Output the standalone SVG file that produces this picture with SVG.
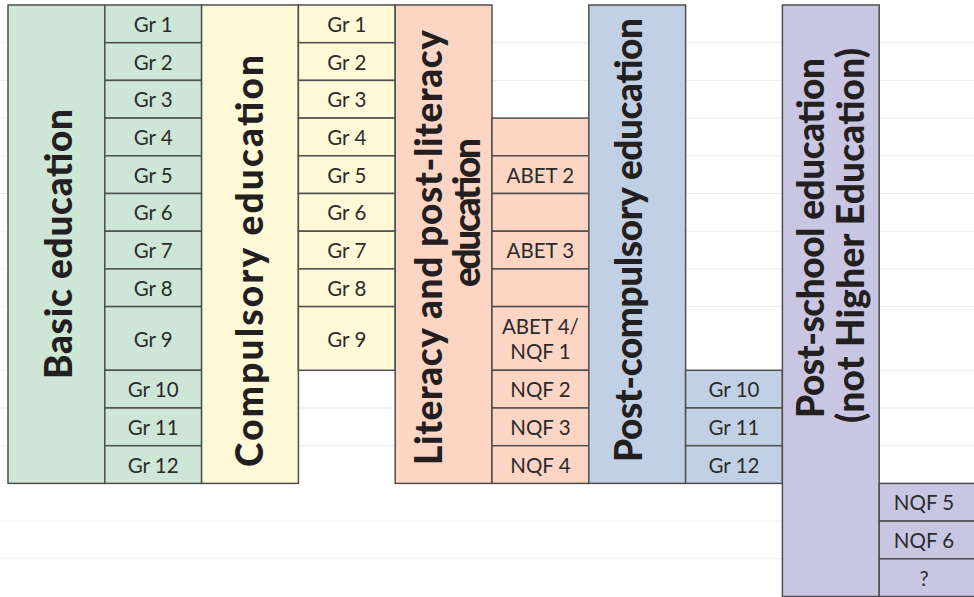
<svg xmlns="http://www.w3.org/2000/svg" width="974" height="597" viewBox="0 0 974 597">
  <style>
    .grid { stroke: #ededed; stroke-width: 1; fill: none; }
    .box { stroke: #4f4f4f; stroke-width: 1.5; }
    .green { fill: #cde6d6; }
    .yellow { fill: #fff9d7; }
    .salmon { fill: #fcd5c4; }
    .blue { fill: #c2d0e6; }
    .purple { fill: #c9c6e3; }
    .cell { font-family: Lato, "Liberation Sans", sans-serif; font-size: 20.5px; fill: #2b2b2b; text-anchor: middle; }
    .title { font-family: Lato, "Liberation Sans", sans-serif; font-size: 37px; font-weight: 900; fill: #231f20; text-anchor: middle; }
  </style>

  <rect width="974" height="597" fill="#ffffff"/>

  <!-- faint background table grid -->
  <g id="background-grid" class="grid">
    <path d="M0 42.7H974M0 80.4H974M0 118.1H974M0 155.8H974M0 193.5H974M0 231.2H974M0 268.9H974M0 306.6H974M0 370.3H974M0 408H974M0 445.7H974M0 521.1H974M0 558.8H974"/>
  </g>

  <!-- Basic education -->
  <g id="basic-education">
    <rect class="box green" x="8" y="5" width="96.8" height="478.4"/>
    <text class="title" transform="translate(72 244) rotate(-90)" textLength="270" lengthAdjust="spacing">Basic education</text>
  </g>
  <g id="basic-grades">
    <rect class="box green" x="104.8" y="5" width="96.8" height="37.7"/>
    <rect class="box green" x="104.8" y="42.7" width="96.8" height="37.7"/>
    <rect class="box green" x="104.8" y="80.4" width="96.8" height="37.7"/>
    <rect class="box green" x="104.8" y="118.1" width="96.8" height="37.7"/>
    <rect class="box green" x="104.8" y="155.8" width="96.8" height="37.7"/>
    <rect class="box green" x="104.8" y="193.5" width="96.8" height="37.7"/>
    <rect class="box green" x="104.8" y="231.2" width="96.8" height="37.7"/>
    <rect class="box green" x="104.8" y="268.9" width="96.8" height="37.7"/>
    <rect class="box green" x="104.8" y="306.6" width="96.8" height="63.7"/>
    <rect class="box green" x="104.8" y="370.3" width="96.8" height="37.7"/>
    <rect class="box green" x="104.8" y="408" width="96.8" height="37.7"/>
    <rect class="box green" x="104.8" y="445.7" width="96.8" height="37.7"/>
    <text class="cell" x="153.2" y="32">Gr 1</text>
    <text class="cell" x="153.2" y="69.6">Gr 2</text>
    <text class="cell" x="153.2" y="107.3">Gr 3</text>
    <text class="cell" x="153.2" y="145">Gr 4</text>
    <text class="cell" x="153.2" y="182.7">Gr 5</text>
    <text class="cell" x="153.2" y="220.4">Gr 6</text>
    <text class="cell" x="153.2" y="258.1">Gr 7</text>
    <text class="cell" x="153.2" y="295.8">Gr 8</text>
    <text class="cell" x="153.2" y="346.5">Gr 9</text>
    <text class="cell" x="153.2" y="397.2">Gr 10</text>
    <text class="cell" x="153.2" y="434.9">Gr 11</text>
    <text class="cell" x="153.2" y="472.6">Gr 12</text>
  </g>

  <!-- Compulsory education -->
  <g id="compulsory-education">
    <rect class="box yellow" x="201.6" y="5" width="96.8" height="478.4"/>
    <text class="title" transform="translate(263 261) rotate(-90)" textLength="412" lengthAdjust="spacing">Compulsory education</text>
  </g>
  <g id="compulsory-grades">
    <rect class="box yellow" x="298.4" y="5" width="96.8" height="37.7"/>
    <rect class="box yellow" x="298.4" y="42.7" width="96.8" height="37.7"/>
    <rect class="box yellow" x="298.4" y="80.4" width="96.8" height="37.7"/>
    <rect class="box yellow" x="298.4" y="118.1" width="96.8" height="37.7"/>
    <rect class="box yellow" x="298.4" y="155.8" width="96.8" height="37.7"/>
    <rect class="box yellow" x="298.4" y="193.5" width="96.8" height="37.7"/>
    <rect class="box yellow" x="298.4" y="231.2" width="96.8" height="37.7"/>
    <rect class="box yellow" x="298.4" y="268.9" width="96.8" height="37.7"/>
    <rect class="box yellow" x="298.4" y="306.6" width="96.8" height="63.7"/>
    <text class="cell" x="346.8" y="32">Gr 1</text>
    <text class="cell" x="346.8" y="69.6">Gr 2</text>
    <text class="cell" x="346.8" y="107.3">Gr 3</text>
    <text class="cell" x="346.8" y="145">Gr 4</text>
    <text class="cell" x="346.8" y="182.7">Gr 5</text>
    <text class="cell" x="346.8" y="220.4">Gr 6</text>
    <text class="cell" x="346.8" y="258.1">Gr 7</text>
    <text class="cell" x="346.8" y="295.8">Gr 8</text>
    <text class="cell" x="346.8" y="346.5">Gr 9</text>
  </g>

  <!-- Literacy and post-literacy education -->
  <g id="literacy-education">
    <rect class="box salmon" x="395.2" y="5" width="96.8" height="478.4"/>
    <text class="title" transform="translate(442 247.5) rotate(-90)" textLength="435" lengthAdjust="spacing">Literacy and post-literacy</text>
    <text class="title" transform="translate(480 212.5) rotate(-90)" textLength="149" lengthAdjust="spacing">education</text>
  </g>
  <g id="literacy-levels">
    <rect class="box salmon" x="492" y="118.1" width="96.8" height="37.7"/>
    <rect class="box salmon" x="492" y="155.8" width="96.8" height="37.7"/>
    <rect class="box salmon" x="492" y="193.5" width="96.8" height="37.7"/>
    <rect class="box salmon" x="492" y="231.2" width="96.8" height="37.7"/>
    <rect class="box salmon" x="492" y="268.9" width="96.8" height="37.7"/>
    <rect class="box salmon" x="492" y="306.6" width="96.8" height="63.7"/>
    <rect class="box salmon" x="492" y="370.3" width="96.8" height="37.7"/>
    <rect class="box salmon" x="492" y="408" width="96.8" height="37.7"/>
    <rect class="box salmon" x="492" y="445.7" width="96.8" height="37.7"/>
    <text class="cell" x="540.4" y="182.7">ABET 2</text>
    <text class="cell" x="540.4" y="258.1">ABET 3</text>
    <text class="cell" x="540.4" y="334">ABET 4/</text>
    <text class="cell" x="540.4" y="359">NQF 1</text>
    <text class="cell" x="540.4" y="397.2">NQF 2</text>
    <text class="cell" x="540.4" y="434.9">NQF 3</text>
    <text class="cell" x="540.4" y="472.6">NQF 4</text>
  </g>

  <!-- Post-compulsory education -->
  <g id="post-compulsory-education">
    <rect class="box blue" x="588.8" y="5" width="96.8" height="478.4"/>
    <text class="title" transform="translate(642 240) rotate(-90)" textLength="444" lengthAdjust="spacing">Post-compulsory education</text>
  </g>
  <g id="post-compulsory-grades">
    <rect class="box blue" x="685.6" y="370.3" width="96.8" height="37.7"/>
    <rect class="box blue" x="685.6" y="408" width="96.8" height="37.7"/>
    <rect class="box blue" x="685.6" y="445.7" width="96.8" height="37.7"/>
    <text class="cell" x="734" y="397.2">Gr 10</text>
    <text class="cell" x="734" y="434.9">Gr 11</text>
    <text class="cell" x="734" y="472.6">Gr 12</text>
  </g>

  <!-- Post-school education -->
  <g id="post-school-education">
    <rect class="box purple" x="782.4" y="5" width="96.8" height="591.5"/>
    <text class="title" transform="translate(824 238) rotate(-90)" textLength="360" lengthAdjust="spacing">Post-school education</text>
    <text class="title" transform="translate(864 235.5) rotate(-90)" textLength="375" lengthAdjust="spacing">(not Higher Education)</text>
  </g>
  <g id="post-school-levels">
    <rect class="box purple" x="879.2" y="483.4" width="100" height="37.7"/>
    <rect class="box purple" x="879.2" y="521.1" width="100" height="37.7"/>
    <rect class="box purple" x="879.2" y="558.8" width="100" height="37.7"/>
    <text class="cell" x="924" y="510.3">NQF 5</text>
    <text class="cell" x="924" y="548">NQF 6</text>
    <text class="cell" x="924" y="585.7">?</text>
  </g>
</svg>
